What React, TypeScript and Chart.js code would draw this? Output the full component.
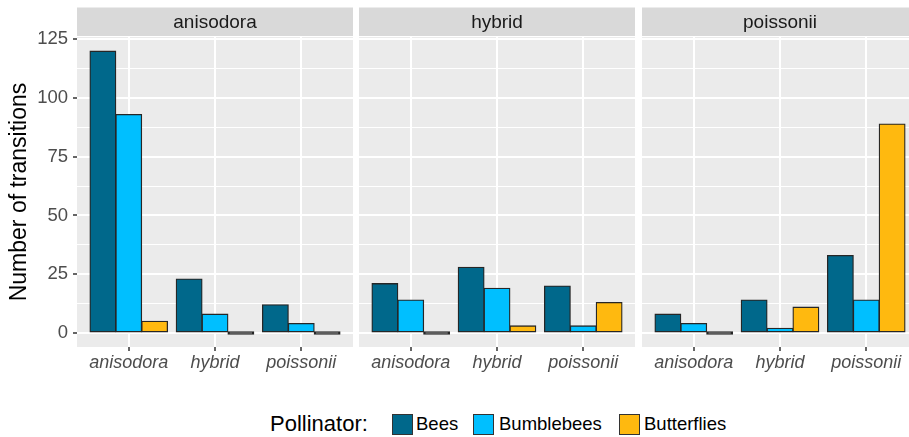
import React, { useEffect, useRef } from "react";
import { Chart, registerables } from "chart.js";

Chart.register(...registerables);

// Origin of each transition (x axis inside every facet)
const ORIGINS = ["anisodora", "hybrid", "poissonii"];
// Pollinator series and their fills
const POLLINATORS = ["Bees", "Bumblebees", "Butterflies"];
const POLLINATOR_COLORS = ["#00688B", "#00BFFF", "#FFB90F"];

// Transitions into "anisodora", by origin
const anisodoraBees = [120, 23, 12];
const anisodoraBumblebees = [93, 8, 4];
const anisodoraButterflies = [5, 0, 0];

// Transitions into "hybrid", by origin
const hybridBees = [21, 28, 20];
const hybridBumblebees = [14, 19, 3];
const hybridButterflies = [0, 3, 13];

// Transitions into "poissonii", by origin
const poissoniiBees = [8, 14, 33];
const poissoniiBumblebees = [4, 2, 14];
const poissoniiButterflies = [0, 11, 89];

// Shared y axis
const Y_MAJOR_TICKS = [0, 25, 50, 75, 100, 125];
const Y_MINOR_TICKS = [12.5, 37.5, 62.5, 87.5, 112.5];
const Y_MIN = -6;
const Y_MAX = 126;

const FONT = "'Liberation Sans', Arial, Helvetica, sans-serif";

const isMajor = (v: number) => Y_MAJOR_TICKS.includes(v);

// Grey panel background and the facet strip above it
const facetPanel = {
  id: "facetPanel",
  beforeDraw(chart: any, _args: any, opts: any) {
    const { ctx, chartArea: a } = chart;
    ctx.save();
    ctx.fillStyle = "#EBEBEB";
    ctx.fillRect(a.left, a.top, a.right - a.left, a.bottom - a.top);
    const stripTop = opts.stripTop;
    const stripBottom = a.top - 1;
    ctx.fillStyle = "#D9D9D9";
    ctx.fillRect(a.left, stripTop, a.right - a.left, stripBottom - stripTop);
    ctx.fillStyle = "#1A1A1A";
    ctx.font = `19px ${FONT}`;
    ctx.textAlign = "center";
    ctx.textBaseline = "middle";
    ctx.fillText(opts.label, (a.left + a.right) / 2, (stripTop + stripBottom) / 2 + 1);
    ctx.restore();
  },
};

type FacetProps = {
  label: string;
  series: number[][];
  showY: boolean;
  left: number;
  width: number;
};

function Facet({ label, series, showY, left, width }: FacetProps) {
  const ref = useRef<HTMLCanvasElement | null>(null);

  useEffect(() => {
    if (!ref.current) return;
    const chart = new Chart(ref.current, {
      type: "bar",
      data: {
        datasets: series.map((vals, k) => ({
          label: POLLINATORS[k],
          data: vals.map((v, i) => ({ x: i + 1, y: v })),
          backgroundColor: (c: any) =>
            c.raw && c.raw.y === 0 ? "#262626" : POLLINATOR_COLORS[k],
          borderColor: "#262626",
          borderWidth: 1.3,
          borderSkipped: false,
          inflateAmount: 0.5,
          minBarLength: 2.5,
          categoryPercentage: 0.9,
          barPercentage: 1,
        })),
      },
      options: {
        animation: false,
        responsive: false,
        devicePixelRatio: 1,
        layout: { padding: { top: 37, left: 0, right: 0, bottom: 0 } },
        plugins: {
          legend: { display: false },
          tooltip: { enabled: false },
          facetPanel: { label, stripTop: 7.5 },
        } as any,
        scales: {
          x: {
            type: "linear",
            min: 0.4,
            max: 3.6,
            offset: false,
            afterBuildTicks: (s: any) => {
              s.ticks = ORIGINS.map((_, i) => ({ value: i + 1 }));
            },
            afterFit: (s: any) => {
              s.height = 30;
            },
            ticks: {
              autoSkip: false,
              maxRotation: 0,
              padding: 1,
              color: "#4D4D4D",
              font: { family: FONT, size: 18, style: "italic" },
              callback: (v: any) => ORIGINS[Number(v) - 1] ?? "",
            },
            grid: {
              offset: false,
              color: "#FFFFFF",
              lineWidth: 2,
              tickColor: "#333333",
              tickWidth: 1.5,
              tickLength: 4,
            },
            border: { display: false },
          },
          y: {
            type: "linear",
            min: Y_MIN,
            max: Y_MAX,
            afterBuildTicks: (s: any) => {
              s.ticks = [...Y_MAJOR_TICKS, ...Y_MINOR_TICKS]
                .sort((a, b) => a - b)
                .map((value) => ({ value }));
            },
            afterFit: (s: any) => {
              s.width = showY ? 77 : 0;
            },
            title: {
              display: showY,
              text: "Number of transitions",
              color: "#000000",
              font: { family: FONT, size: 23 },
              padding: { top: 6, bottom: 0 },
            },
            ticks: {
              display: showY,
              padding: 5,
              color: "#4D4D4D",
              font: { family: FONT, size: 18.5 },
              callback: (v: any) => (isMajor(Number(v)) ? String(v) : ""),
            },
            grid: {
              color: "#FFFFFF",
              lineWidth: (c: any) => (isMajor(c.tick.value) ? 2 : 1),
              drawTicks: showY,
              tickColor: (c: any) =>
                isMajor(c.tick.value) ? "#333333" : "rgba(0,0,0,0)",
              tickWidth: 1.5,
              tickLength: 4,
            },
            border: { display: false },
          },
        },
      } as any,
      plugins: [facetPanel],
    });
    return () => chart.destroy();
  }, [label, series, showY]);

  return (
    <canvas
      ref={ref}
      width={width}
      height={377}
      style={{ position: "absolute", left, top: 0, width, height: 377, display: "block" }}
    />
  );
}

const FACETS = [
  { label: "anisodora", series: [anisodoraBees, anisodoraBumblebees, anisodoraButterflies], showY: true, left: 0, width: 353 },
  { label: "hybrid", series: [hybridBees, hybridBumblebees, hybridButterflies], showY: false, left: 359, width: 276 },
  { label: "poissonii", series: [poissoniiBees, poissoniiBumblebees, poissoniiButterflies], showY: false, left: 642, width: 276 },
];

// Legend layout: left edge of each key swatch and of its label
const LEGEND_KEY_LEFT = [392, 473, 619];
const LEGEND_TEXT_LEFT = [416, 499, 644];

function Legend() {
  const row = { position: "absolute" as const, top: 413, height: 22, display: "flex", alignItems: "center" };
  return (
    <div style={{ fontFamily: FONT, color: "#000", whiteSpace: "nowrap" }}>
      <span style={{ ...row, left: 270, fontSize: 22 }}>Pollinator:</span>
      {POLLINATORS.map((p, k) => (
        <React.Fragment key={p}>
          <span style={{ ...row, left: LEGEND_KEY_LEFT[k] }}>
            <span
              style={{
                width: 21,
                height: 21,
                boxSizing: "border-box",
                border: "1.5px solid #333",
                background: POLLINATOR_COLORS[k],
                display: "inline-block",
              }}
            />
          </span>
          <span style={{ ...row, left: LEGEND_TEXT_LEFT[k], fontSize: 18.5 }}>{p}</span>
        </React.Fragment>
      ))}
    </div>
  );
}

export default function App() {
  return (
    <div
      style={{
        position: "fixed",
        left: 0,
        top: 0,
        width: 909,
        height: 437,
        overflow: "hidden",
        background: "#FFFFFF",
      }}
    >
      {FACETS.map((f) => (
        <Facet key={f.label} {...f} />
      ))}
      <Legend />
    </div>
  );
}
